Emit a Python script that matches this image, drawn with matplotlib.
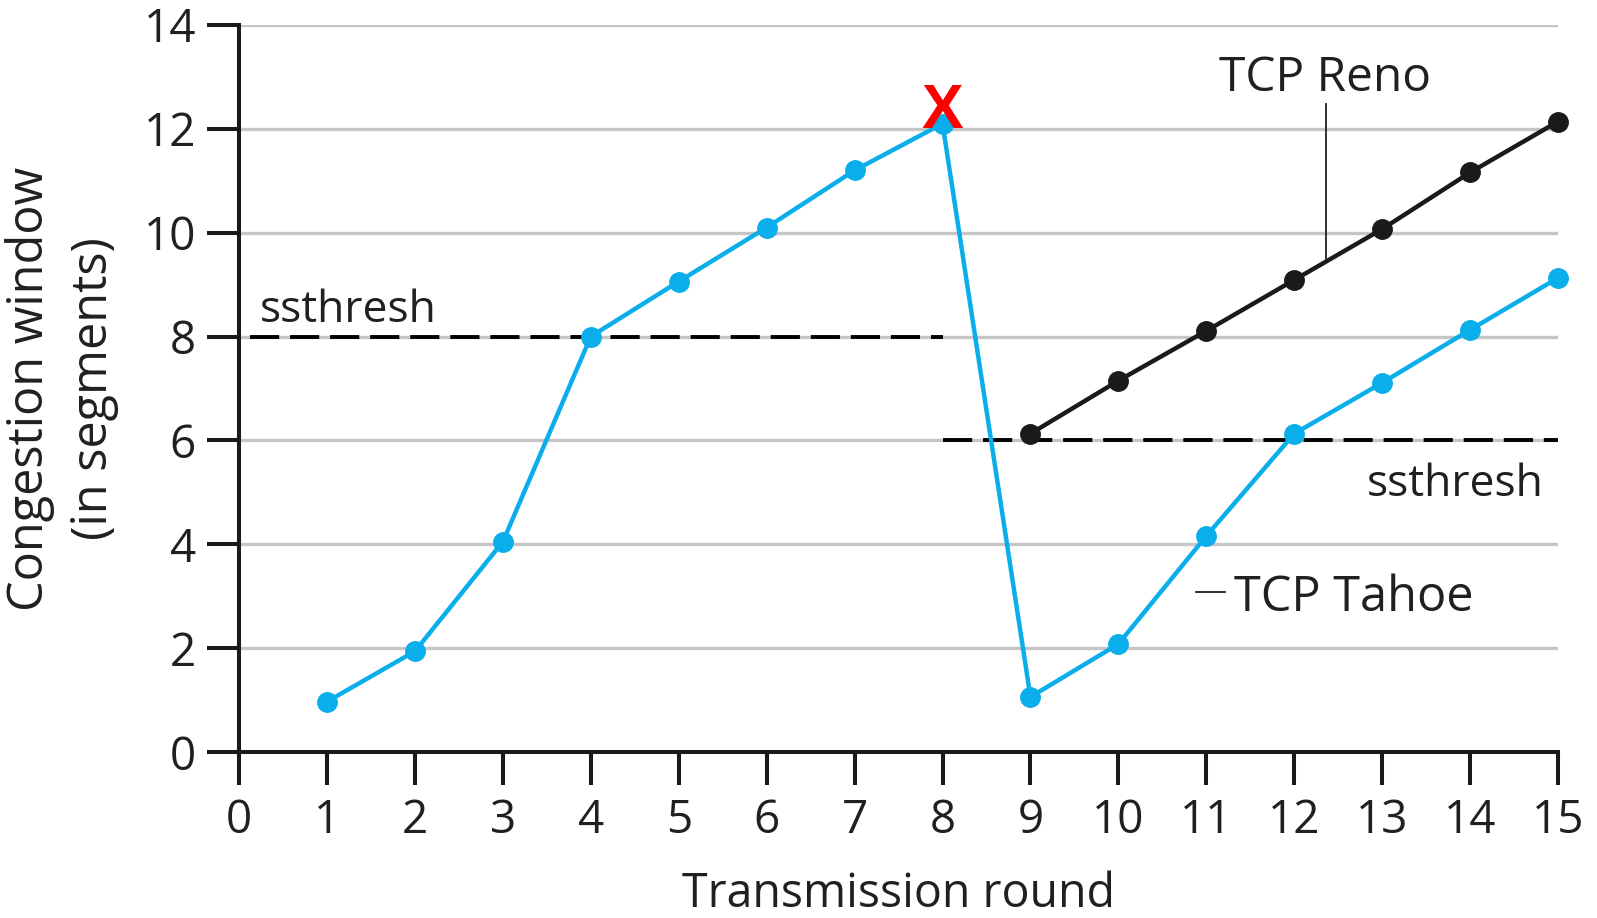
import matplotlib
matplotlib.use("Agg")
import matplotlib.pyplot as plt

plt.rcParams['font.family'] = ['Open Sans', 'DejaVu Sans']

# ---- data ----
rounds = list(range(1, 16))
tahoe = [0.97, 1.94, 4.05, 8.0, 9.06, 10.1, 11.2, 12.1, 1.06, 2.08, 4.16, 6.13, 7.11, 8.13, 9.13]
reno_rounds = list(range(9, 16))
reno = [6.13, 7.15, 8.11, 9.09, 10.07, 11.16, 12.14]
ssthresh1_x = [0.12, 8]
ssthresh1_y = [8, 8]
ssthresh2_x = [8, 15]
ssthresh2_y = [6, 6]
x_ticks = list(range(0, 16))
y_ticks = list(range(0, 15, 2))
loss_round = 8
loss_level = 12.33

BLUE = '#0aaeea'
TXT = '#231f20'

fig = plt.figure(figsize=(15.97, 9.18), dpi=100)
ax = fig.add_axes([0.1497, 0.1808, 0.8259, 0.792])

ax.set_xlim(0, 15)
ax.set_ylim(0, 14)

ax.yaxis.grid(True, color='#c6c6c6', linewidth=2.4)
ax.set_axisbelow(True)

ax.plot(ssthresh1_x, ssthresh1_y, color='black', lw=2.8, linestyle=(0, (7.5, 2.8)), zorder=2)
ax.plot(ssthresh2_x, ssthresh2_y, color='black', lw=2.8, linestyle=(0, (7.5, 2.8)), zorder=2)

ax.plot(reno_rounds, reno, color='#1a1a1a', lw=3.2, marker='o', ms=14, clip_on=False, zorder=3)
ax.plot(rounds, tahoe, color=BLUE, lw=3.2, marker='o', ms=14, clip_on=False, zorder=4)

ax.text(loss_round, loss_level, 'X', color='#ff0000', fontsize=45, fontweight='bold',
        family=['Liberation Sans', 'DejaVu Sans'], ha='center', va='center', zorder=6)

ax.text(0.24, 8.28, 'ssthresh', fontsize=32, color=TXT, ha='left', va='baseline')
ax.text(14.84, 4.93, 'ssthresh', fontsize=32, color=TXT, ha='right', va='baseline')
ax.text(11.15, 12.72, 'TCP Reno', fontsize=34.5, color=TXT, ha='left', va='baseline')
ax.plot([12.36, 12.36], [12.48, 9.45], color=TXT, lw=1.3, zorder=3)
ax.text(11.32, 2.72, 'TCP Tahoe', fontsize=35, color=TXT, ha='left', va='baseline')
ax.plot([10.88, 11.21], [3.08, 3.08], color=TXT, lw=1.3, zorder=3)

for s in ['top', 'right']:
    ax.spines[s].set_visible(False)
for s in ['left', 'bottom']:
    ax.spines[s].set_linewidth(2.9)
    ax.spines[s].set_color('#1a1a1a')

ax.set_xticks(x_ticks)
ax.set_yticks(y_ticks)
ax.tick_params(axis='x', direction='out', length=24, width=2.9, pad=9, labelsize=33, colors='#1a1a1a', labelcolor=TXT)
ax.tick_params(axis='y', direction='out', length=23, width=2.9, pad=8, labelsize=33, colors='#1a1a1a', labelcolor=TXT)

ax.set_xlabel('Transmission round', fontsize=33.5, color=TXT, labelpad=19)
ax.set_ylabel('Congestion window\n(in segments)', fontsize=35, color=TXT, labelpad=18, linespacing=1.38)

fig.savefig('out.png', dpi=100)
